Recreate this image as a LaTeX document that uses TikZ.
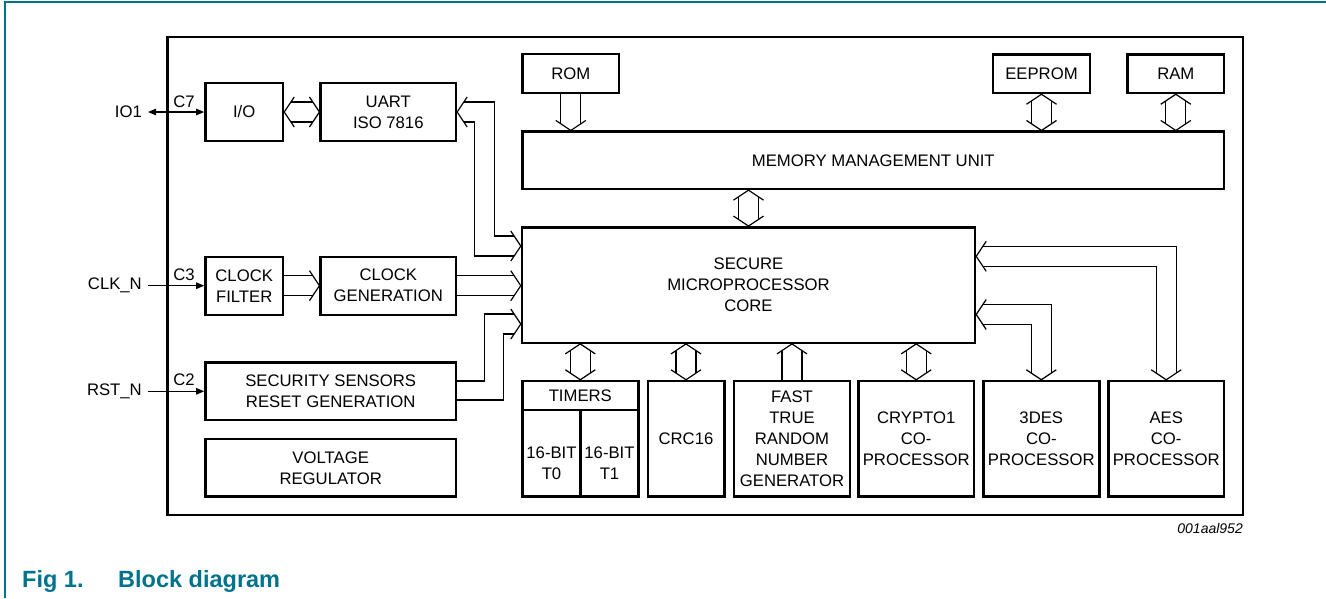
\documentclass[tikz,border=0pt]{standalone}
\usepackage{fontspec}
\setmainfont{Liberation Sans}
\usepackage{tikz}
\usetikzlibrary{arrows.meta, calc}
\definecolor{nxpteal}{RGB}{0, 115, 140}
\newcommand{\blkfont}{\fontsize{16.7}{21}\selectfont}

% open bus arrow heads, tip at #1
\newcommand{\headR}[1]{\draw[bus] ($(#1)+(-10,-15)$) -- (#1) -- ($(#1)+(-10,15)$);}
\newcommand{\headL}[1]{\draw[bus] ($(#1)+(10,-15)$) -- (#1) -- ($(#1)+(10,15)$);}
\newcommand{\headD}[1]{\draw[bus] ($(#1)+(-15,-10)$) -- (#1) -- ($(#1)+(15,-10)$);}
\newcommand{\headU}[1]{\draw[bus] ($(#1)+(-15,10)$) -- (#1) -- ($(#1)+(15,10)$);}
% two way buses, #1 top/left tip, #2 bottom/right tip
\newcommand{\vdbl}[2]{%
  \draw[bus] ($(#1)+(-10,6.7)$) -- ($(#2)+(-10,-6.7)$)
             ($(#1)+(10,6.7)$) -- ($(#2)+(10,-6.7)$);
  \headU{#1}\headD{#2}}
\newcommand{\hdbl}[2]{%
  \draw[bus] ($(#1)+(6.7,-10)$) -- ($(#2)+(-6.7,-10)$)
             ($(#1)+(6.7,10)$) -- ($(#2)+(-6.7,10)$);
  \headL{#1}\headR{#2}}

\begin{document}
\begin{tikzpicture}[x=1pt, y=-1pt,
    blk/.style={draw, line width=2.4pt, align=center, inner sep=0pt, font=\blkfont},
    lbl/.style={align=center, inner sep=0pt, font=\blkfont},
    pin/.style={anchor=east, inner xsep=6pt, inner ysep=0pt, font=\blkfont},
    bus/.style={line width=1.2pt},
    sig/.style={line width=1.2pt, -{Triangle[length=8pt, width=6.5pt]}},
    caption/.style={anchor=base west, inner sep=0pt, text=nxpteal,
                    font=\fontsize{23.5}{28}\selectfont\bfseries}]
  \useasboundingbox (0,0) rectangle (1326,598);

  % page frame and chip outline
  \draw[nxpteal, line width=2pt] (5,598) -- (5,2) -- (1326,2);
  \draw[line width=2.8pt] (167.7,37) rectangle (1243,515);

  % ---- left column ----
  \node[blk, minimum width=77.7pt, minimum height=58pt] (io) at (244.2,112) {I/O};
  \node[blk, minimum width=135.3pt, minimum height=58pt] (uart) at (388.3,112) {UART\\ISO 7816};
  \node[blk, minimum width=77.7pt, minimum height=58pt] (filt) at (244.2,285.7) {CLOCK\\FILTER};
  \node[blk, minimum width=135.3pt, minimum height=58pt] (cgen) at (388.3,285.7) {CLOCK\\GENERATION};
  \node[blk, minimum width=250.7pt, minimum height=57.3pt] (sens) at (330.7,391.3) {SECURITY SENSORS\\RESET GENERATION};
  \node[blk, minimum width=250.7pt, minimum height=57.7pt] (vreg) at (330.7,467.8) {VOLTAGE\\REGULATOR};

  % ---- memories and core ----
  \node[blk, minimum width=96.3pt, minimum height=38.5pt] (rom) at (570.8,73.5) {ROM};
  \node[blk, minimum width=97pt, minimum height=38.5pt] (eeprom) at (1041.5,73.8) {EEPROM};
  \node[blk, minimum width=96.3pt, minimum height=38.5pt] (ram) at (1175.8,73.8) {RAM};
  \node[blk, minimum width=701.3pt, minimum height=57.3pt] (mmu) at (873.3,160.3) {MEMORY MANAGEMENT UNIT};
  \node[blk, minimum width=453pt, minimum height=115.4pt] (core) at (748.5,285) {SECURE\\MICROPROCESSOR\\CORE};

  % ---- peripherals ----
  \node[blk, minimum width=116pt, minimum height=115.7pt] (timers) at (580.3,438.8) {};
  \node[blk, minimum width=76.6pt, minimum height=115.7pt] (crc) at (686,438.8) {CRC16};
  \node[blk, minimum width=116pt, minimum height=115.7pt] (trng) at (792,438.8) {FAST\\TRUE\\RANDOM\\NUMBER\\GENERATOR};
  \node[blk, minimum width=115.7pt, minimum height=115.7pt] (crypto) at (916.2,438.8) {CRYPTO1\\CO-\\PROCESSOR};
  \node[blk, minimum width=116pt, minimum height=115.7pt] (des) at (1041.3,438.8) {3DES\\CO-\\PROCESSOR};
  \node[blk, minimum width=115.7pt, minimum height=115.7pt] (aes) at (1166.2,438.8) {AES\\CO-\\PROCESSOR};
  \draw[line width=2.4pt] ($(timers.west)+(1.2,-28.8)$) -- ($(timers.east)+(-1.2,-28.8)$);
  \draw[line width=2.4pt] ($(timers.center)+(0,-28.8)$) -- ($(timers.south)+(0,-1.2)$);
  \node[lbl] (timlbl) at ($(timers.north)+(0,15.5)$) {TIMERS};
  \node[lbl] (tzero) at (551.5,463) {16-BIT\\T0};
  \node[lbl] (tone) at (609.5,463) {16-BIT\\T1};

  % ---- pins ----
  \node[pin] (io1) at (148,112) {IO1};
  \node[pin] (clkn) at (148,285.7) {CLK\_N};
  \node[pin] (rstn) at (148,391.3) {RST\_N};
  \node[lbl] (c7) at (184,101.3) {C7};
  \node[lbl] (c3) at (184,275) {C3};
  \node[lbl] (c2) at (184,380) {C2};
  \draw[sig, {Triangle[length=8pt, width=6.5pt]}-{Triangle[length=8pt, width=6.5pt]}] (io1.east) -- (io.west);
  \draw[sig] (clkn.east) -- (filt.west);
  \draw[sig] (rstn.east) -- (sens.west);

  % ---- buses ----
  \hdbl{io.east}{uart.west}
  \draw[bus] ($(filt.east)+(0,-10)$) -- ($(cgen.west)+(-6.7,-10)$)
             ($(filt.east)+(0,10)$) -- ($(cgen.west)+(-6.7,10)$);
  \headR{cgen.west}
  \coordinate (genin) at (core.west |- cgen.east);
  \draw[bus] ($(cgen.east)+(0,-10)$) -- ($(genin)+(-6.7,-10)$)
             ($(cgen.east)+(0,10)$) -- ($(genin)+(-6.7,10)$);
  \headR{genin}

  \coordinate (uartin) at ($(core.west)+(0,-39)$);
  \draw[bus] ($(uart.east)+(6.7,-10)$) -| ($(uartin)+(-26.5,-10)$) -- ($(uartin)+(-6.7,-10)$);
  \draw[bus] ($(uart.east)+(6.7,10)$) -| ($(uartin)+(-46,10)$) -- ($(uartin)+(-6.7,10)$);
  \headL{uart.east}\headR{uartin}

  \coordinate (sensin) at ($(core.west)+(0,39)$);
  \draw[bus] ($(sens.east)+(0,-10.3)$) -| ($(sensin)+(-36.5,-10)$) -- ($(sensin)+(-6.7,-10)$);
  \draw[bus] ($(sens.east)+(0,8.7)$) -| ($(sensin)+(-17,10)$) -- ($(sensin)+(-6.7,10)$);
  \headR{sensin}

  \coordinate (mmurom) at (mmu.north -| rom.south);
  \draw[bus] ($(rom.south)+(-10,0)$) -- ($(mmurom)+(-10,-6.7)$)
             ($(rom.south)+(10,0)$) -- ($(mmurom)+(10,-6.7)$);
  \headD{mmurom}
  \coordinate (mmuee) at (mmu.north -| eeprom.south);
  \vdbl{eeprom.south}{mmuee}
  \coordinate (mmuram) at (mmu.north -| ram.south);
  \vdbl{ram.south}{mmuram}
  \coordinate (mmucore) at (mmu.south -| core.north);
  \vdbl{mmucore}{core.north}

  \coordinate (cortim) at (core.south -| timers.north);
  \vdbl{cortim}{timers.north}
  \coordinate (corcrc) at (core.south -| crc.north);
  \vdbl{corcrc}{crc.north}
  \coordinate (cortrng) at (core.south -| trng.north);
  \draw[bus] ($(trng.north)+(-10,0)$) -- ($(cortrng)+(-10,6.7)$)
             ($(trng.north)+(10,0)$) -- ($(cortrng)+(10,6.7)$);
  \headU{cortrng}
  \coordinate (corcry) at (core.south -| crypto.north);
  \vdbl{corcry}{crypto.north}

  \coordinate (desin) at ($(core.east)+(0,29.5)$);
  \draw[bus] ($(desin)+(6.7,-10)$) -| ($(des.north)+(10,-6.7)$);
  \draw[bus] ($(desin)+(6.7,10)$) -| ($(des.north)+(-10,-6.7)$);
  \headL{desin}\headD{des.north}
  \coordinate (aesin) at ($(core.east)+(0,-28.7)$);
  \draw[bus] ($(aesin)+(6.7,-10)$) -| ($(aes.north)+(10,-6.7)$);
  \draw[bus] ($(aesin)+(6.7,10)$) -| ($(aes.north)+(-10,-6.7)$);
  \headL{aesin}\headD{aes.north}

  % ---- captions ----
  \node[anchor=base east, inner sep=0pt, font=\fontsize{14}{16}\selectfont\itshape] (figid) at (1243,533) {001aal952};
  \node[caption] (fignum) at (22,587) {Fig 1.};
  \node[caption] (figtitle) at (118,587) {Block diagram};
\end{tikzpicture}
\end{document}
